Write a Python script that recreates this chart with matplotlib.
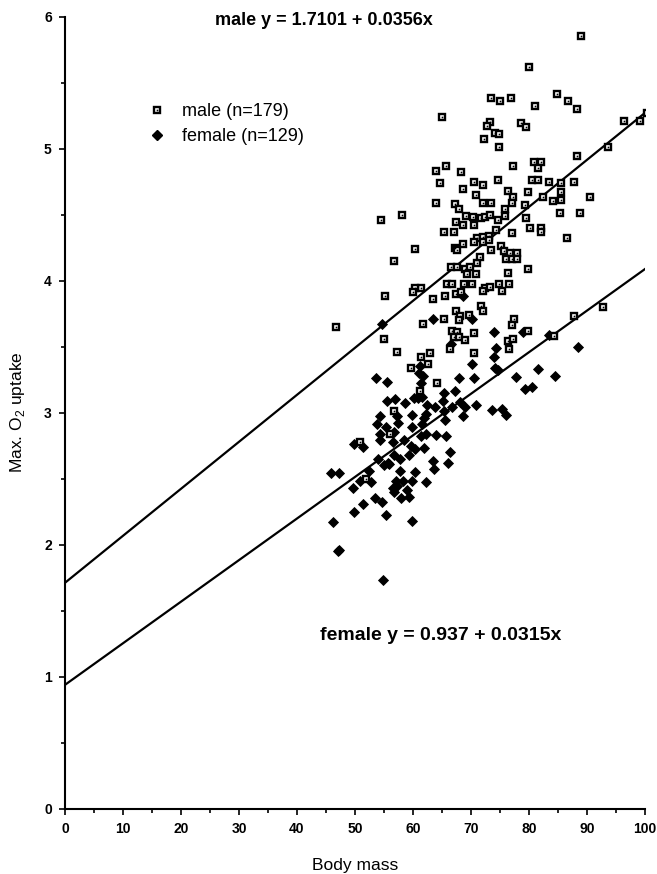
import numpy as np
import matplotlib
matplotlib.use('Agg')
import matplotlib.pyplot as plt
from matplotlib.lines import Line2D
from matplotlib.ticker import MultipleLocator

plt.rcParams['font.family'] = ['Liberation Sans', 'DejaVu Sans']

# regression lines printed on the chart
male_a, male_b = 1.7101, 0.0356
female_a, female_b = 0.937, 0.0315
line_x = np.array([0, 100])

# male points (body mass, max O2 uptake)
male_x = [88.9, 80.0, 73.5, 75.0, 76.9, 81.1, 84.9, 86.8, 88.3, 100.3,
          96.3, 99.2, 65.0, 73.2, 72.8, 78.7, 79.5, 74.1, 74.8, 72.2,
          74.8, 93.6, 88.3, 63.9, 65.7, 68.2, 77.2, 80.9, 82.0, 81.5,
          64.6, 70.5, 72.1, 74.6, 80.5, 81.5, 83.4, 87.8, 68.6, 70.8,
          76.4, 77.2, 77.1, 79.8, 82.5, 84.2, 85.5, 85.5, 90.6, 64.0,
          67.2, 68.0, 72.0, 73.4, 79.4, 69.1, 70.3, 71.7, 72.5, 73.3,
          74.6, 75.8, 75.9, 79.5, 85.4, 88.8, 67.5, 68.6, 70.5, 65.4,
          67.1, 71.1, 72.1, 73.1, 74.3, 77.0, 80.1, 82.0, 82.0, 86.6,
          60.3, 67.2, 68.7, 70.5, 72.0, 73.1, 67.6, 75.1, 75.7, 76.7,
          77.9, 76.0, 77.0, 78.0, 76.4, 79.8, 56.8, 66.6, 67.6, 69.0,
          69.9, 71.1, 71.5, 69.3, 70.8, 54.5, 58.1, 65.9, 66.8, 68.8,
          70.2, 72.4, 73.3, 74.9, 76.5, 61.3, 60.4, 73.4, 85.5,
          55.2, 60.0, 63.5, 65.5, 67.4, 68.2, 72.0, 75.4, 46.8, 55.0,
          57.3, 61.8, 65.3, 67.5, 68.1, 67.9, 69.6, 71.7, 72.0, 66.7,
          67.6, 67.1, 68.0, 69.0, 70.6, 66.3, 70.6, 63.0, 61.4, 62.6,
          59.7, 77.5, 77.0, 79.8, 76.3, 77.3, 76.5, 87.8, 92.7, 84.3,
          64.1, 61.2, 56.8, 56.0, 50.8, 51.9]
male_y = [5.85, 5.62, 5.38, 5.36, 5.38, 5.32, 5.41, 5.36, 5.30, 5.27,
          5.21, 5.21, 5.24, 5.20, 5.17, 5.19, 5.16, 5.12, 5.11, 5.07,
          5.01, 5.01, 4.94, 4.83, 4.87, 4.82, 4.87, 4.90, 4.90, 4.85,
          4.74, 4.75, 4.72, 4.76, 4.76, 4.76, 4.75, 4.75, 4.69, 4.65,
          4.68, 4.63, 4.59, 4.67, 4.63, 4.60, 4.67, 4.61, 4.63, 4.59,
          4.58, 4.54, 4.59, 4.59, 4.57, 4.49, 4.48, 4.47, 4.48, 4.50,
          4.46, 4.49, 4.54, 4.47, 4.51, 4.51, 4.44, 4.42, 4.42, 4.37,
          4.37, 4.32, 4.33, 4.34, 4.38, 4.36, 4.40, 4.40, 4.37, 4.32,
          4.24, 4.25, 4.28, 4.29, 4.29, 4.31, 4.23, 4.26, 4.22, 4.21,
          4.21, 4.16, 4.16, 4.16, 4.06, 4.09, 4.15, 4.10, 4.10, 4.09,
          4.10, 4.13, 4.18, 4.05, 4.05, 4.46, 4.50, 3.97, 3.97, 3.97,
          3.97, 3.94, 3.95, 3.97, 3.97, 3.94, 3.94, 4.23, 4.74,
          3.88, 3.91, 3.86, 3.88, 3.90, 3.91, 3.92, 3.92, 3.65, 3.56,
          3.46, 3.67, 3.71, 3.77, 3.73, 3.70, 3.74, 3.81, 3.77, 3.62,
          3.61, 3.57, 3.57, 3.55, 3.60, 3.48, 3.45, 3.45, 3.42, 3.37,
          3.34, 3.71, 3.66, 3.62, 3.54, 3.56, 3.48, 3.73, 3.80, 3.58,
          3.22, 3.16, 3.01, 2.84, 2.78, 2.50]

# female points
female_x = [54.7, 63.4, 68.7, 70.1, 73.9, 78.9, 83.5, 74.4, 73.9, 70.1,
            88.5, 74.6, 77.7, 81.6, 84.5, 79.3, 80.6, 68.0, 70.5, 61.2,
            61.8, 61.3, 53.7, 55.6, 65.3, 67.2, 60.2, 60.8, 61.6, 55.6,
            56.9, 58.6, 62.5, 63.8, 65.1, 68.1, 68.9, 70.8, 66.8, 73.6,
            75.4, 76.0, 68.7, 62.2, 61.9, 59.9, 57.2, 54.4, 65.5, 61.5,
            57.4, 53.8, 55.4, 59.9, 62.2, 61.4, 63.9, 65.7, 54.4, 56.8,
            54.4, 58.4, 49.8, 51.4, 59.6, 60.4, 61.9, 66.3, 53.9, 55.7,
            57.7, 59.3, 63.5, 66.0, 45.8, 47.2, 49.6, 51.4, 49.8, 46.2,
            47.3, 47.0, 54.9, 53.4, 54.7, 55.4, 59.8, 52.8, 50.8, 52.4,
            57.7, 60.3, 63.7, 62.3, 59.9, 58.2, 57.0, 56.5, 56.7, 59.0,
            58.0, 59.4, 55.0, 55.8, 56.6, 65.4, 56.7, 66.5, 61.1, 74.2,
            57.3]
female_y = [3.67, 3.71, 3.88, 3.71, 3.61, 3.61, 3.59, 3.49, 3.42, 3.37,
            3.50, 3.32, 3.27, 3.33, 3.28, 3.18, 3.19, 3.26, 3.26, 3.35,
            3.28, 3.22, 3.26, 3.23, 3.15, 3.16, 3.11, 3.11, 3.12, 3.09,
            3.10, 3.07, 3.06, 3.04, 3.09, 3.08, 3.04, 3.06, 3.04, 3.02,
            3.03, 2.98, 2.97, 2.99, 2.96, 2.98, 2.97, 2.97, 2.94, 2.91,
            2.92, 2.91, 2.89, 2.89, 2.84, 2.82, 2.83, 2.82, 2.84, 2.85,
            2.79, 2.79, 2.76, 2.74, 2.75, 2.72, 2.73, 2.70, 2.65, 2.62,
            2.65, 2.68, 2.63, 2.62, 2.54, 2.54, 2.43, 2.31, 2.25, 2.17,
            1.96, 1.95, 1.73, 2.35, 2.32, 2.22, 2.18, 2.47, 2.48, 2.56,
            2.56, 2.55, 2.57, 2.47, 2.48, 2.48, 2.48, 2.43, 2.40, 2.41,
            2.35, 2.36, 2.60, 2.61, 2.78, 3.01, 2.68, 3.52, 3.30, 3.34,
            2.44]

fig = plt.figure(figsize=(6.57, 8.74), dpi=100)
ax = fig.add_axes([0.0989, 0.0749, 0.8828, 0.9062])

ax.plot(line_x, male_a + male_b * line_x, color='black', lw=1.6, zorder=1)
ax.plot(line_x, female_a + female_b * line_x, color='black', lw=1.6, zorder=1)

ax.plot(female_x, female_y, 'D', ms=4.8, color='black', mew=0.6, zorder=2)
ax.plot(male_x, male_y, 's', ms=5, mfc='white', mec='black', mew=1.7, zorder=3)
ax.plot(male_x, male_y, 's', ms=1.2, color='black', mew=0, zorder=4)

ax.set_xlim(0, 100)
ax.set_ylim(0, 6)
ax.xaxis.set_major_locator(MultipleLocator(10))
ax.xaxis.set_minor_locator(MultipleLocator(5))
ax.yaxis.set_major_locator(MultipleLocator(1))
ax.yaxis.set_minor_locator(MultipleLocator(0.5))
ax.tick_params(which='both', direction='out', width=1.2, labelsize=10)
ax.tick_params(which='major', length=4.5, pad=5)
ax.tick_params(which='minor', length=3)
for lab in ax.get_xticklabels() + ax.get_yticklabels():
    lab.set_fontweight('bold')
for s in ['top', 'right']:
    ax.spines[s].set_visible(False)
for s in ['left', 'bottom']:
    ax.spines[s].set_linewidth(1.5)

ax.set_xlabel('Body mass', fontsize=12.5, labelpad=16)
ax.set_ylabel(r'Max. O$_{\mathregular{2}}$ uptake', fontsize=12.5, labelpad=12)

ax.text(44.6, 5.97, 'male y = 1.7101 + 0.0356x', fontsize=13, fontweight='bold',
        ha='center', va='center')
ax.text(64.8, 1.31, 'female y = 0.937 + 0.0315x', fontsize=14, fontweight='bold',
        ha='center', va='center')

h_male = (Line2D([], [], ls='none', marker='s', ms=5, mfc='white', mec='black', mew=1.7),
          Line2D([], [], ls='none', marker='s', ms=1.2, color='black', mew=0))
h_female = Line2D([], [], ls='none', marker='D', ms=4.6, color='black')
ax.legend([h_male, h_female], ['male (n=179)', 'female (n=129)'],
          loc='upper left', bbox_to_anchor=(148 / 657, 1 - 103 / 874),
          bbox_transform=fig.transFigure, frameon=False, fontsize=13,
          handlelength=1.0, handletextpad=0.9, labelspacing=0.45,
          borderpad=0, borderaxespad=0)

fig.savefig('out.png', dpi=100)
